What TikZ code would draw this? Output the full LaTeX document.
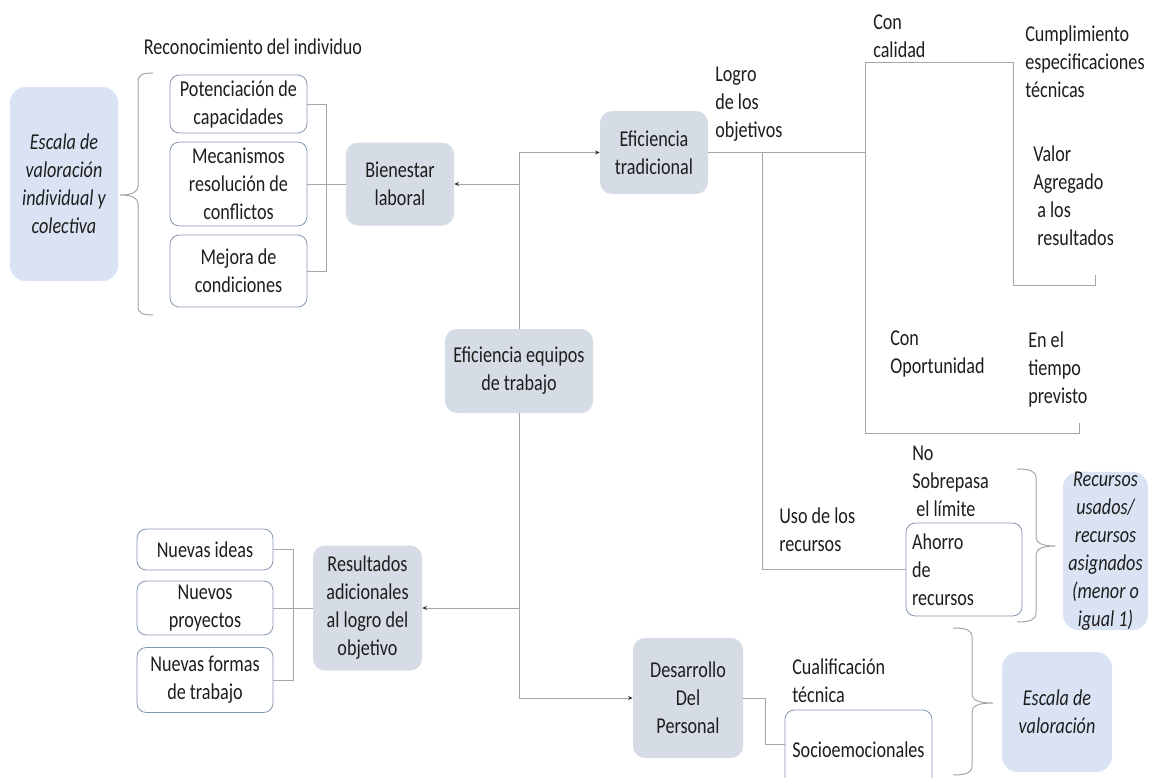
\documentclass[tikz,border=0pt]{standalone}
\usepackage{fontspec}
\setmainfont{Carlito}[FakeStretch=0.8]
\usetikzlibrary{arrows.meta}
\definecolor{gbox}{HTML}{D6DCE5}
\definecolor{bbox}{HTML}{DAE3F3}
\definecolor{wline}{HTML}{8497B0}
\definecolor{cline}{HTML}{A6A6A6}
\definecolor{txt}{HTML}{1E1E1E}
\begin{document}
\begin{tikzpicture}[x=0.75pt,y=-0.75pt,
  every node/.style={font=\fontsize{17pt}{21pt}\selectfont, text=txt, inner sep=0pt},
  sz/.style 2 args={minimum width=#1*0.75pt, minimum height=#2*0.75pt},
  graybox/.style={fill=gbox, rounded corners=9pt, align=center},
  bluebox/.style={fill=bbox, rounded corners=12pt, align=center, font=\fontsize{17pt}{21pt}\selectfont\itshape},
  whitebox/.style={draw=wline, line width=0.6pt, fill=white, rounded corners=7pt, align=center},
  lbl/.style={align=left, anchor=west},
  conn/.style={draw=cline, line width=0.75pt},
  arr/.style={conn, -{Stealth[length=3.5pt,width=3pt,color=black!80]}},
]
\useasboundingbox (0,0) rectangle (1153,778);
\clip (0,0) rectangle (1153,778);
\fill[white] (0,0) rectangle (1153,778);

% left part
\node[bluebox, sz={108}{194}] (esc1) at (64,184) {Escala de\\valoración\\individual y\\colectiva};
\node (rec) at (253,47) {Reconocimiento del individuo};
\node[whitebox, sz={137}{58}] (pot) at (238.5,104) {Potenciación de\\capacidades};
\node[whitebox, sz={137}{84}] (mec) at (238.5,184) {Mecanismos\\resolución de\\conflictos};
\node[whitebox, sz={137}{72}] (mej) at (238.5,271) {Mejora de\\condiciones};
\node[graybox, sz={108}{83}] (bien) at (400,184) {Bienestar\\laboral};

% centre
\node[graybox, sz={108}{83}] (eft) at (654,152.5) {Eficiencia\\tradicional};
\node[graybox, sz={148}{84}] (eeq) at (519,371) {Eficiencia equipos\\de trabajo};
\node[graybox, sz={109}{125}] (res) at (367.5,608) {Resultados\\adicionales\\al logro del\\objetivo};
\node[whitebox, sz={136}{41}] (nid) at (205,549.5) {Nuevas ideas};
\node[whitebox, sz={136}{54}] (npr) at (205,608) {Nuevos\\proyectos};
\node[whitebox, sz={136}{65}] (nfo) at (205,680) {Nuevas formas\\de trabajo};
\node[graybox, sz={110}{120}] (des) at (688,698) {Desarrollo\\Del\\Personal};
\node[lbl] (cual) at (792,681) {Cualificación\\técnica};
\node[whitebox, sz={147}{80}] (soc) at (858.5,750) {Socioemocionales};
\node[bluebox, sz={110}{120}] (esc2) at (1057,712) {Escala de\\valoración};

% right part labels
\node[lbl] (logro) at (715,104) {Logro\\de los\\objetivos};
\node[lbl] (concal) at (873,36) {Con\\calidad};
\node[lbl] (cump) at (1025,62) {Cumplimiento\\especificaciones\\técnicas};
\node[lbl] (valor) at (1033,196) {Valor\\Agregado\\\hspace*{3pt}a los\\\hspace*{3pt}resultados};
\node[lbl] (conop) at (890,354) {Con\\Oportunidad};
\node[lbl] (entiempo) at (1028,369) {En el\\tiempo\\previsto};
\node[lbl] (nosob) at (912,481) {No\\Sobrepasa\\\hspace*{3pt}el límite};
\node[lbl] (uso) at (779,530) {Uso de los\\recursos};
\node[whitebox, sz={116}{93}, align=left, text width=104*0.75pt] (aho) at (964,569.5) {Ahorro\\de\\recursos};
\node[bluebox, sz={85}{154}] (recu) at (1105.5,551) {Recursos\\usados/\\recursos\\asignados\\(menor o\\igual 1)};

% coordinates
\coordinate (c1) at (865,152.5);
\coordinate (c2) at (762,152.5);
\coordinate (q1) at (865,62);
\coordinate (q2) at (1013,62);
\coordinate (q3) at (1013,285);
\coordinate (q4) at (1095,285);
\coordinate (q5) at (1095,275);
\coordinate (o1) at (865,433);
\coordinate (o2) at (1079,433);
\coordinate (o3) at (1079,423);

% connectors left
\draw[conn] (pot.east) -- ++(19,0) |- (mej.east);
\draw[conn] (mec.east) -- (mec.east -| bien.west);
\draw[arr] (eeq.north) |- (eft.west);
\draw[arr] (eeq.north |- bien.east) -- (bien.east);
\draw[arr] (eeq.south) |- (des.west);
\draw[arr] (eeq.south |- res.east) -- (res.east);
\draw[conn] (nid.east) -- ++(20,0) |- (nfo.east);
\draw[conn] (npr.east) -- (npr.east -| res.west);
\draw[conn] (des.east) -- ++(22,0) |- (soc.west |- 0,744);

% connectors right
\draw[conn] (eft.east) -- (c1);
\draw[conn] (o3) -- (o2) -- (o1) -- (q1) -- (q2) -- (q3) -- (q4) -- (q5);
\draw[conn] (c2) |- (aho.west);

% braces
\draw[conn] (153,73) .. controls (142,73) and (138,75) .. (138,82) -- (138,186)
  .. controls (138,192) and (132,195) .. (120,195)
  .. controls (132,195) and (138,198) .. (138,204) -- (138,306)
  .. controls (138,313) and (142,315) .. (153,315);
\draw[conn] (1017,469) .. controls (1030,469) and (1036,471) .. (1036,478) -- (1036,537)
  .. controls (1036,543) and (1042,546) .. (1055,546)
  .. controls (1042,546) and (1036,549) .. (1036,555) -- (1036,613)
  .. controls (1036,620) and (1030,622) .. (1017,622);
\draw[conn] (953,628) .. controls (966,628) and (972,630) .. (972,637) -- (972,694)
  .. controls (972,700) and (978,703) .. (993,703)
  .. controls (978,703) and (972,706) .. (972,712) -- (972,766)
  .. controls (972,773) and (966,775) .. (953,775);
\end{tikzpicture}
\end{document}
